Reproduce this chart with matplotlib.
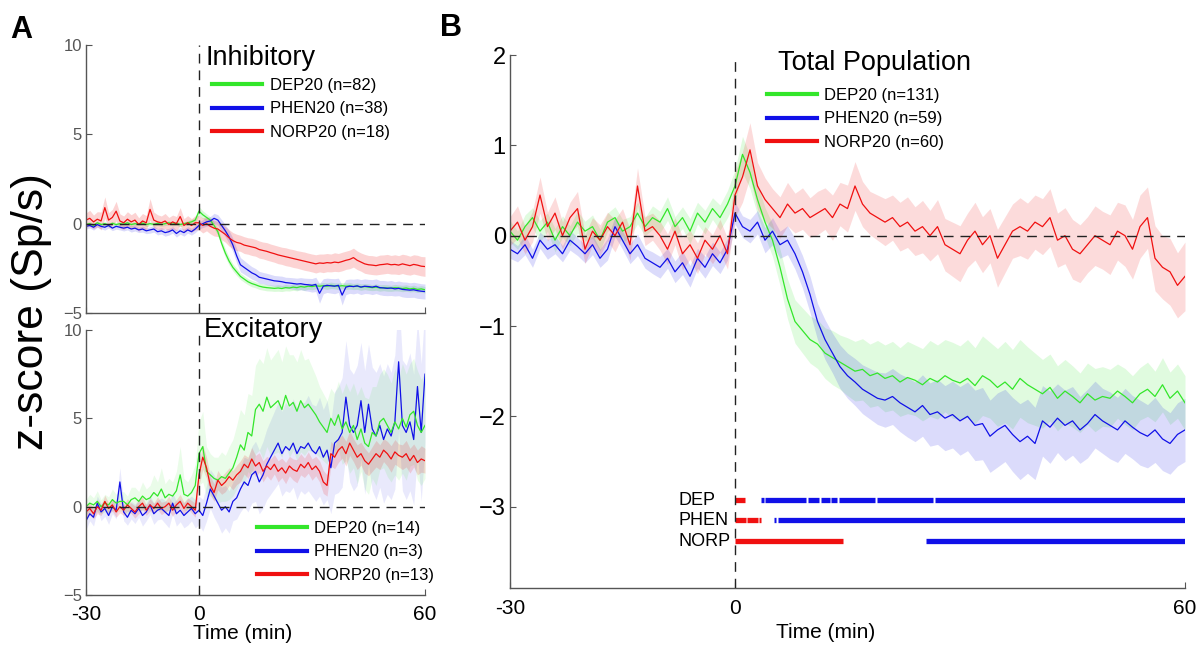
import numpy as np
import matplotlib
matplotlib.use("Agg")
import matplotlib.pyplot as plt
from matplotlib.lines import Line2D

plt.rcParams["font.family"] = ["Liberation Sans", "DejaVu Sans"]

# time axis (min), one sample per minute
time_min = np.arange(-30, 61)

# ---- panel B: total population (mean and sem) ----
dep_tot = [0.05, -0.05, 0.10, 0.20, 0.05, 0.15, -0.05, 0.10, 0.00, 0.15,
           0.05, 0.10, -0.05, 0.15, 0.20, 0.05, 0.10, 0.25, 0.10, 0.20,
           0.15, 0.30, 0.10, 0.20, 0.05, 0.25, 0.15, 0.30, 0.20, 0.35,
           0.55, 0.90, 0.70, 0.40, 0.15, -0.05, -0.35, -0.70, -0.95, -1.05,
           -1.15, -1.20, -1.30, -1.35, -1.40, -1.45, -1.50, -1.48, -1.55, -1.52,
           -1.58, -1.55, -1.62, -1.57, -1.60, -1.65, -1.58, -1.62, -1.55, -1.60,
           -1.63, -1.58, -1.66, -1.55, -1.60, -1.68, -1.62, -1.70, -1.58, -1.65,
           -1.70, -1.75, -1.68, -1.80, -1.72, -1.78, -1.85, -1.75, -1.82, -1.78,
           -1.80, -1.72, -1.78, -1.85, -1.75, -1.70, -1.78, -1.65, -1.80, -1.72,
           -1.85]
dep_tot_err = [0.12, 0.10, 0.13, 0.11, 0.12, 0.10, 0.13, 0.12, 0.11, 0.12,
               0.11, 0.13, 0.12, 0.10, 0.12, 0.13, 0.11, 0.12, 0.10, 0.13,
               0.12, 0.13, 0.11, 0.12, 0.14, 0.12, 0.13, 0.12, 0.14, 0.15,
               0.18, 0.20, 0.18, 0.17, 0.16, 0.18, 0.20, 0.22, 0.24, 0.25,
               0.26, 0.27, 0.28, 0.30, 0.30, 0.32, 0.33, 0.34, 0.35, 0.36,
               0.37, 0.38, 0.38, 0.40, 0.39, 0.40, 0.42, 0.41, 0.40, 0.42,
               0.41, 0.43, 0.42, 0.44, 0.42, 0.43, 0.45, 0.44, 0.43, 0.42,
               0.40, 0.38, 0.37, 0.36, 0.35, 0.34, 0.33, 0.34, 0.35, 0.33,
               0.32, 0.30, 0.31, 0.30, 0.29, 0.30, 0.28, 0.30, 0.29, 0.30,
               0.30]
phen_tot = [-0.15, -0.20, -0.10, -0.25, -0.05, -0.15, -0.10, -0.20, -0.05, -0.12,
            -0.20, -0.10, -0.25, -0.15, 0.10, -0.05, -0.20, -0.10, -0.25, -0.30,
            -0.35, -0.25, -0.40, -0.30, -0.45, -0.25, -0.35, -0.20, -0.30, -0.15,
            0.25, 0.10, 0.05, 0.15, -0.05, 0.05, -0.10, -0.05, -0.20, -0.40,
            -0.65, -0.95, -1.15, -1.30, -1.45, -1.55, -1.62, -1.70, -1.75, -1.80,
            -1.82, -1.78, -1.85, -1.90, -1.95, -1.88, -1.98, -1.95, -2.02, -1.98,
            -2.05, -2.00, -2.10, -2.08, -2.22, -2.15, -2.10, -2.20, -2.28, -2.22,
            -2.30, -2.05, -2.12, -2.02, -2.10, -2.05, -2.15, -2.08, -1.98, -2.05,
            -2.10, -2.15, -2.05, -2.12, -2.18, -2.22, -2.15, -2.25, -2.30, -2.20,
            -2.15]
phen_tot_err = [0.10, 0.09, 0.11, 0.10, 0.09, 0.11, 0.10, 0.09, 0.11, 0.10,
                0.10, 0.11, 0.10, 0.12, 0.11, 0.10, 0.11, 0.12, 0.11, 0.12,
                0.12, 0.11, 0.12, 0.13, 0.12, 0.11, 0.12, 0.13, 0.12, 0.12,
                0.12, 0.12, 0.13, 0.13, 0.14, 0.15, 0.15, 0.16, 0.17, 0.18,
                0.20, 0.20, 0.22, 0.22, 0.24, 0.25, 0.26, 0.27, 0.28, 0.29,
                0.30, 0.31, 0.32, 0.33, 0.33, 0.34, 0.35, 0.36, 0.36, 0.37,
                0.38, 0.38, 0.39, 0.40, 0.40, 0.41, 0.40, 0.41, 0.42, 0.41,
                0.40, 0.39, 0.40, 0.38, 0.39, 0.38, 0.37, 0.38, 0.37, 0.36,
                0.37, 0.36, 0.36, 0.35, 0.36, 0.35, 0.36, 0.35, 0.34, 0.35,
                0.35]
norp_tot = [0.05, 0.15, -0.05, 0.10, 0.45, 0.10, 0.25, 0.00, 0.20, 0.30,
            -0.15, 0.05, -0.05, 0.10, 0.00, 0.15, -0.10, 0.55, 0.05, 0.10,
            0.00, -0.15, 0.05, -0.20, -0.10, -0.25, -0.05, -0.15, 0.00, -0.20,
            0.45, 0.65, 0.95, 0.55, 0.40, 0.30, 0.20, 0.35, 0.25, 0.30,
            0.20, 0.25, 0.30, 0.20, 0.35, 0.30, 0.55, 0.35, 0.25, 0.20,
            0.15, 0.20, 0.10, 0.15, 0.05, 0.10, 0.00, 0.10, -0.10, -0.15,
            -0.20, -0.05, 0.05, -0.10, 0.00, -0.25, -0.10, 0.05, 0.10, 0.05,
            0.15, 0.10, 0.20, -0.05, 0.00, -0.15, -0.20, -0.10, 0.00, -0.05,
            -0.10, 0.05, 0.00, -0.15, 0.10, 0.20, -0.25, -0.35, -0.40, -0.55,
            -0.45]
norp_tot_err = [0.16, 0.18, 0.15, 0.17, 0.20, 0.16, 0.18, 0.15, 0.17, 0.19,
                0.16, 0.15, 0.17, 0.16, 0.18, 0.15, 0.17, 0.20, 0.16, 0.15,
                0.16, 0.17, 0.15, 0.18, 0.16, 0.17, 0.15, 0.16, 0.18, 0.17,
                0.25, 0.28, 0.30, 0.26, 0.24, 0.22, 0.23, 0.24, 0.22, 0.23,
                0.22, 0.24, 0.23, 0.25, 0.24, 0.26, 0.27, 0.25, 0.24, 0.25,
                0.26, 0.25, 0.27, 0.28, 0.27, 0.29, 0.28, 0.30, 0.29, 0.30,
                0.31, 0.30, 0.32, 0.31, 0.30, 0.32, 0.31, 0.30, 0.32, 0.31,
                0.30, 0.31, 0.32, 0.30, 0.31, 0.33, 0.32, 0.31, 0.33, 0.32,
                0.33, 0.32, 0.34, 0.33, 0.35, 0.34, 0.36, 0.35, 0.37, 0.36,
                0.38]

# ---- panel A top: inhibitory ----
dep_inh = [-0.05, 0.00, -0.10, 0.05, -0.05, 0.00, -0.08, 0.02, -0.05, 0.00,
           -0.03, 0.05, -0.05, 0.00, -0.02, 0.03, -0.05, 0.00, -0.04, 0.02,
           -0.05, 0.00, 0.05, -0.03, 0.02, -0.05, 0.00, 0.05, 0.10, 0.20,
           0.70, 0.50, 0.35, 0.20, -0.10, -0.45, -1.10, -1.65, -2.10, -2.45,
           -2.70, -2.95, -3.10, -3.25, -3.35, -3.42, -3.50, -3.55, -3.58, -3.60,
           -3.62, -3.60, -3.63, -3.58, -3.60, -3.55, -3.58, -3.52, -3.55, -3.50,
           -3.52, -3.48, -3.50, -3.47, -3.50, -3.45, -3.48, -3.50, -3.47, -3.50,
           -3.48, -3.52, -3.50, -3.55, -3.52, -3.55, -3.58, -3.55, -3.60, -3.58,
           -3.60, -3.62, -3.58, -3.60, -3.63, -3.60, -3.65, -3.62, -3.68, -3.65,
           -3.70]
dep_inh_err = [0.10, 0.12, 0.10, 0.11, 0.10, 0.12, 0.10, 0.11, 0.12, 0.10,
               0.11, 0.10, 0.12, 0.10, 0.11, 0.10, 0.12, 0.11, 0.10, 0.12,
               0.10, 0.11, 0.12, 0.10, 0.11, 0.12, 0.10, 0.12, 0.14, 0.16,
               0.25, 0.22, 0.20, 0.18, 0.18, 0.20, 0.22, 0.24, 0.22, 0.20,
               0.20, 0.18, 0.18, 0.17, 0.18, 0.17, 0.18, 0.17, 0.18, 0.17,
               0.17, 0.18, 0.17, 0.18, 0.17, 0.18, 0.18, 0.17, 0.18, 0.17,
               0.18, 0.17, 0.18, 0.17, 0.18, 0.18, 0.17, 0.18, 0.17, 0.18,
               0.18, 0.17, 0.18, 0.18, 0.17, 0.18, 0.17, 0.18, 0.18, 0.17,
               0.18, 0.17, 0.18, 0.17, 0.18, 0.18, 0.17, 0.18, 0.17, 0.18,
               0.18]
phen_inh = [-0.15, -0.10, -0.20, -0.05, -0.15, -0.20, -0.10, -0.25, -0.15, -0.20,
            -0.25, -0.20, -0.30, -0.25, -0.35, -0.30, -0.40, -0.35, -0.30, -0.45,
            -0.40, -0.50, -0.45, -0.35, -0.55, -0.40, -0.50, -0.35, -0.45, -0.30,
            -0.10, 0.00, 0.10, 0.15, 0.30, 0.20, -0.10, -0.40, -0.75, -1.20,
            -1.80, -2.30, -2.45, -2.60, -2.75, -2.85, -3.00, -3.05, -3.10, -3.15,
            -3.20, -3.22, -3.25, -3.30, -3.32, -3.35, -3.38, -3.36, -3.40, -3.42,
            -3.45, -3.40, -3.90, -3.50, -3.45, -3.48, -3.50, -3.45, -4.00, -3.55,
            -3.50, -3.52, -3.48, -3.55, -3.50, -3.52, -3.55, -3.50, -3.58, -3.60,
            -3.62, -3.60, -3.65, -3.62, -3.68, -3.70, -3.72, -3.70, -3.75, -3.78,
            -3.80]
phen_inh_err = [0.15, 0.14, 0.16, 0.15, 0.14, 0.16, 0.15, 0.14, 0.16, 0.15,
                0.16, 0.15, 0.17, 0.16, 0.15, 0.17, 0.16, 0.18, 0.17, 0.18,
                0.18, 0.20, 0.19, 0.18, 0.20, 0.19, 0.20, 0.18, 0.19, 0.20,
                0.20, 0.22, 0.24, 0.25, 0.28, 0.30, 0.32, 0.34, 0.36, 0.38,
                0.40, 0.40, 0.38, 0.36, 0.35, 0.34, 0.33, 0.32, 0.32, 0.31,
                0.30, 0.30, 0.31, 0.30, 0.31, 0.32, 0.33, 0.34, 0.35, 0.36,
                0.38, 0.40, 0.55, 0.42, 0.40, 0.41, 0.42, 0.40, 0.55, 0.42,
                0.40, 0.41, 0.40, 0.42, 0.41, 0.40, 0.42, 0.41, 0.40, 0.42,
                0.41, 0.42, 0.40, 0.41, 0.42, 0.43, 0.41, 0.42, 0.43, 0.42,
                0.42]
norp_inh = [0.20, 0.30, 0.10, 0.25, 0.15, 0.90, 0.20, 0.35, 0.70, 0.15,
            0.05, 0.25, 0.10, 0.20, -0.05, 0.15, 0.05, 0.80, 0.20, 0.10,
            0.05, 0.15, -0.05, 0.10, 0.00, 0.40, -0.10, 0.05, -0.10, 0.05,
            0.05, -0.10, 0.00, -0.15, -0.25, -0.30, -0.45, -0.60, -0.80, -0.95,
            -1.05, -1.10, -1.20, -1.25, -1.30, -1.35, -1.45, -1.50, -1.55, -1.62,
            -1.68, -1.75, -1.80, -1.85, -1.90, -1.95, -2.00, -2.05, -2.10, -2.15,
            -2.20, -2.25, -2.20, -2.22, -2.18, -2.20, -2.15, -2.18, -2.12, -2.05,
            -2.00, -1.90, -2.05, -2.15, -2.25, -2.30, -2.32, -2.35, -2.30, -2.28,
            -2.25, -2.30, -2.28, -2.32, -2.25, -2.30, -2.35, -2.28, -2.32, -2.38,
            -2.40]
norp_inh_err = [0.40, 0.45, 0.38, 0.42, 0.50, 0.60, 0.42, 0.45, 0.55, 0.40,
                0.38, 0.42, 0.40, 0.44, 0.38, 0.42, 0.40, 0.60, 0.45, 0.40,
                0.38, 0.42, 0.40, 0.38, 0.40, 0.50, 0.38, 0.40, 0.38, 0.40,
                0.40, 0.42, 0.40, 0.42, 0.44, 0.42, 0.45, 0.44, 0.46, 0.45,
                0.46, 0.45, 0.47, 0.46, 0.48, 0.47, 0.48, 0.47, 0.49, 0.48,
                0.48, 0.49, 0.48, 0.50, 0.49, 0.50, 0.49, 0.50, 0.51, 0.50,
                0.50, 0.51, 0.50, 0.52, 0.51, 0.50, 0.52, 0.51, 0.52, 0.51,
                0.52, 0.53, 0.52, 0.51, 0.53, 0.52, 0.53, 0.52, 0.54, 0.53,
                0.53, 0.52, 0.54, 0.53, 0.54, 0.55, 0.53, 0.54, 0.55, 0.54,
                0.55]

# ---- panel A bottom: excitatory ----
dep_exc = [0.00, 0.20, 0.10, 0.30, 0.00, 0.20, 0.10, 0.40, 0.20, 0.30,
           0.30, 0.10, 0.40, 0.50, 0.30, 0.60, 0.40, 0.50, 0.80, 0.60,
           1.00, 0.50, 0.70, 0.60, 0.90, 1.80, 0.70, 0.60, 0.80, 1.20,
           3.00, 3.40, 2.00, 1.80, 1.60, 1.50, 1.70, 1.60, 1.90, 2.20,
           2.80, 3.50, 3.20, 4.20, 4.00, 5.50, 5.80, 5.40, 6.20, 5.60,
           5.80, 6.00, 5.50, 6.30, 5.70, 5.90, 5.40, 6.00, 5.60, 5.80,
           5.50, 5.20, 4.80, 4.50, 4.20, 5.00, 4.60, 5.20, 4.40, 4.80,
           4.20, 4.60, 3.80, 4.40, 3.60, 3.40, 4.20, 4.00, 4.80, 5.00,
           4.60, 4.20, 4.80, 4.40, 5.00, 4.50, 5.20, 5.40, 4.60, 4.20,
           4.60]
dep_exc_err = [0.40, 0.50, 0.40, 0.60, 0.40, 0.50, 0.45, 0.60, 0.50, 0.55,
               0.55, 0.50, 0.70, 0.60, 0.55, 0.80, 0.60, 0.70, 1.00, 0.80,
               1.20, 0.80, 0.90, 0.80, 1.10, 1.60, 0.90, 0.80, 1.00, 1.20,
               1.80, 2.00, 1.40, 1.20, 1.20, 1.30, 1.40, 1.30, 1.50, 1.60,
               1.80, 2.00, 2.00, 2.20, 2.30, 2.50, 2.60, 2.70, 2.80, 2.70,
               2.80, 2.90, 2.70, 2.80, 2.90, 2.70, 2.80, 2.90, 2.70, 2.60,
               2.40, 2.20, 2.00, 1.90, 1.80, 1.70, 1.80, 1.90, 2.00, 2.20,
               2.30, 2.40, 2.50, 2.40, 2.60, 2.70, 2.60, 2.80, 2.70, 2.80,
               2.90, 2.80, 3.00, 2.90, 3.10, 3.00, 2.90, 3.00, 3.10, 3.00,
               3.00]
phen_exc = [-0.80, -0.40, -0.60, 0.20, -0.30, -0.10, -0.50, 0.00, -0.20, 1.40,
            -0.30, -0.60, -0.20, -0.40, -0.10, -0.50, -0.30, 0.10, -0.40, -0.20,
            -0.10, -0.30, -0.50, 0.20, -0.40, -0.20, -0.50, -0.30, -0.10, -0.40,
            -0.20, -0.50, 0.20, 1.00, 0.60, 0.20, -0.20, 0.00, -0.30, 0.30,
            0.50, 1.00, 1.40, 1.20, 1.80, 2.00, 1.40, 1.80, 2.40, 2.80,
            3.20, 3.60, 3.00, 3.40, 3.20, 3.60, 3.00, 3.40, 3.30, 3.60,
            3.20, 3.00, 3.40, 2.80, 3.20, 2.20, 3.60, 3.80, 4.20, 6.20,
            4.60, 4.20, 4.60, 6.00, 4.20, 5.80, 4.40, 4.00, 4.60, 3.80,
            4.40, 4.00, 4.80, 8.20, 4.60, 4.20, 4.80, 3.80, 6.80, 4.20,
            7.50]
phen_exc_err = [0.50, 0.40, 0.50, 0.40, 0.50, 0.45, 0.50, 0.40, 0.50, 0.80,
                0.50, 0.45, 0.50, 0.55, 0.50, 0.60, 0.50, 0.55, 0.60, 0.55,
                0.60, 0.65, 0.70, 0.60, 0.70, 0.65, 0.70, 0.75, 0.70, 0.80,
                0.80, 0.90, 1.00, 1.10, 1.20, 1.20, 1.30, 1.20, 1.20, 1.10,
                1.20, 1.30, 1.40, 1.50, 1.60, 1.70, 1.80, 1.90, 2.00, 2.10,
                2.20, 2.30, 2.40, 2.50, 2.40, 2.50, 2.60, 2.50, 2.60, 2.70,
                2.60, 2.70, 2.80, 2.70, 2.80, 2.60, 2.90, 3.00, 3.10, 3.20,
                3.20, 3.30, 3.40, 3.30, 3.50, 3.40, 3.50, 3.60, 3.50, 3.60,
                3.70, 3.60, 3.80, 3.90, 3.70, 3.80, 3.90, 3.70, 3.80, 3.90,
                3.90]
norp_exc = [-0.30, -0.10, -0.40, 0.00, -0.20, 0.30, -0.10, 0.10, -0.30, 0.00,
            -0.20, 0.10, -0.10, -0.30, 0.00, 0.20, -0.20, 0.10, -0.10, 0.20,
            -0.10, 0.00, 0.20, -0.20, 0.10, 0.30, -0.10, 0.20, 0.00, -0.20,
            1.80, 2.80, 2.20, 1.20, 0.80, 1.50, 1.20, 1.40, 1.70, 1.50,
            1.80, 2.00, 2.40, 2.20, 2.70, 2.30, 2.50, 2.00, 2.30, 2.10,
            2.40, 2.00, 2.20, 1.90, 2.30, 2.10, 2.00, 2.40, 2.20, 2.50,
            2.10, 2.30, 2.00, 1.40, 1.20, 3.00, 2.80, 3.20, 3.40, 3.00,
            3.60, 3.20, 2.80, 3.00, 2.60, 2.40, 2.70, 3.00, 2.80, 3.20,
            3.00, 2.70, 3.10, 2.90, 2.80, 3.00, 2.60, 2.90, 2.50, 2.70,
            2.60]
norp_exc_err = [0.30, 0.35, 0.30, 0.40, 0.30, 0.35, 0.30, 0.35, 0.30, 0.35,
                0.30, 0.35, 0.30, 0.35, 0.40, 0.35, 0.30, 0.35, 0.30, 0.35,
                0.35, 0.30, 0.40, 0.35, 0.30, 0.40, 0.35, 0.30, 0.35, 0.40,
                0.60, 0.70, 0.60, 0.50, 0.50, 0.55, 0.50, 0.55, 0.50, 0.55,
                0.55, 0.60, 0.55, 0.60, 0.65, 0.60, 0.55, 0.60, 0.55, 0.60,
                0.55, 0.60, 0.55, 0.60, 0.55, 0.60, 0.65, 0.60, 0.55, 0.60,
                0.60, 0.55, 0.60, 0.65, 0.60, 0.70, 0.65, 0.70, 0.65, 0.70,
                0.70, 0.65, 0.70, 0.65, 0.70, 0.65, 0.70, 0.75, 0.70, 0.65,
                0.70, 0.75, 0.70, 0.65, 0.70, 0.75, 0.70, 0.65, 0.70, 0.75,
                0.70]

legend_inh = ["DEP20 (n=82)", "PHEN20 (n=38)", "NORP20 (n=18)"]
legend_exc = ["DEP20 (n=14)", "PHEN20 (n=3)", "NORP20 (n=13)"]
legend_tot = ["DEP20 (n=131)", "PHEN20 (n=59)", "NORP20 (n=60)"]

# significance bars under panel B: (start, end) in minutes
sig_labels = ["DEP", "PHEN", "NORP"]
sig_levels = [-2.93, -3.15, -3.38]
sig_red = [[(0.0, 1.3)],
           [(0.0, 1.4), (1.6, 3.0), (3.2, 3.5)],
           [(0.0, 14.4)]]
sig_blue = [[(3.5, 3.8), (4.0, 9.5), (9.7, 11.2), (11.4, 12.6), (12.8, 13.6),
             (13.8, 18.7), (18.9, 26.4), (26.6, 60.0)],
            [(5.2, 5.5), (5.7, 60.0)],
            [(25.4, 60.0)]]

GREEN = "#33e62a"
BLUE = "#1010e8"
RED = "#f01010"
SPINE = "#555555"
DASH = (0, (7, 5))

W, H = 1196, 647
fig = plt.figure(figsize=(W / 100, H / 100), dpi=100)


def px_axes(left, top, right, bottom):
    return fig.add_axes([left / W, 1 - bottom / H, (right - left) / W, (bottom - top) / H])


def shaded(ax, mean, err, color, alpha):
    m = np.asarray(mean)
    e = np.asarray(err)
    ax.fill_between(time_min, m - e, m + e, color=color, alpha=alpha, linewidth=0)
    ax.plot(time_min, m, color=color, lw=0.9)


def style(ax, ylim, yticks, yticklabels, ysize, ycolor, show_x, xpad):
    ax.set_xlim(-30, 60)
    ax.set_ylim(*ylim)
    for s in ["top", "right"]:
        ax.spines[s].set_visible(False)
    for s in ["left", "bottom"]:
        ax.spines[s].set_color(SPINE)
        ax.spines[s].set_linewidth(1.0)
    ax.set_yticks(yticks)
    ax.set_yticklabels(yticklabels, fontsize=ysize, color=ycolor)
    ax.set_xticks([-30, 0, 60])
    if show_x:
        ax.set_xticklabels(["-30", "0", "60"], fontsize=15)
    else:
        ax.set_xticklabels([])
    ax.tick_params(direction="in", length=4, color=SPINE)
    ax.tick_params(axis="y", pad=3)
    ax.tick_params(axis="x", pad=xpad)
    ax.axvline(0, color="#222222", lw=1.0, ls=DASH, zorder=5)
    ax.axhline(0, color="#222222", lw=1.0, ls=DASH, zorder=5)


def add_legend(ax, labels, x, y):
    handles = [Line2D([], [], color=c, lw=3) for c in (GREEN, BLUE, RED)]
    ax.legend(handles, labels, loc="upper left", bbox_to_anchor=(x / W, 1 - y / H),
              bbox_transform=fig.transFigure, frameon=False, borderpad=0,
              borderaxespad=0, handlelength=3.0, handletextpad=0.45,
              labelspacing=0.5, prop={"size": 12})


yt_a = [-5, 0, 5, 10]
ytl_a = ["\u22125", "0", "5", "10"]

# panel A top
ax1 = px_axes(86, 45, 425, 313)
shaded(ax1, dep_inh, dep_inh_err, GREEN, 0.18)
shaded(ax1, phen_inh, phen_inh_err, BLUE, 0.15)
shaded(ax1, norp_inh, norp_inh_err, RED, 0.18)
style(ax1, (-5, 10), yt_a, ytl_a, 12, "#555555", False, 6)
add_legend(ax1, legend_inh, 212, 78)
fig.text(205 / W, 1 - 58 / H, "Inhibitory", fontsize=19.5, va="center", ha="left")

# panel A bottom
ax2 = px_axes(86, 330, 425, 595)
shaded(ax2, phen_exc, phen_exc_err, BLUE, 0.09)
shaded(ax2, dep_exc, dep_exc_err, GREEN, 0.10)
shaded(ax2, norp_exc, norp_exc_err, RED, 0.15)
style(ax2, (-5, 10), yt_a, ytl_a, 12, "#555555", True, 7)
ax2.set_xlabel("Time (min)", fontsize=15, labelpad=1)
ax2.xaxis.set_label_coords(0.463, -0.108)
add_legend(ax2, legend_exc, 257, 521)
fig.text(204 / W, 1 - 330 / H, "Excitatory", fontsize=19.5, va="center", ha="left")

# panel B
ax3 = px_axes(510, 55, 1185, 588)
shaded(ax3, dep_tot, dep_tot_err, GREEN, 0.15)
shaded(ax3, phen_tot, phen_tot_err, BLUE, 0.15)
shaded(ax3, norp_tot, norp_tot_err, RED, 0.15)
style(ax3, (-3.9, 2), [-3, -2, -1, 0, 1, 2],
      ["\u22123", "\u22122", "\u22121", "0", "1", "2"], 17, "black", True, 8)
ax3.set_xlabel("Time (min)", fontsize=15)
ax3.xaxis.set_label_coords(0.468, -0.066)
add_legend(ax3, legend_tot, 767, 88)
fig.text(778 / W, 1 - 63 / H, "Total Population", fontsize=19.5, va="center", ha="left")

for lab, lvl, reds, blues in zip(sig_labels, sig_levels, sig_red, sig_blue):
    for a, b in reds:
        ax3.plot([a, b], [lvl, lvl], color=RED, lw=3.8, solid_capstyle="butt")
    for a, b in blues:
        ax3.plot([a, b], [lvl, lvl], color=BLUE, lw=3.8, solid_capstyle="butt")
    ax3.text(-7.6, lvl, lab, fontsize=13, va="center", ha="left")

fig.text(32 / W, 1 - 312 / H, "z-score (Sp/s)", fontsize=32, rotation=90,
         va="center", ha="center")
fig.text(10 / W, 1 - 30 / H, "A", fontsize=22, fontweight="bold", va="center")
fig.text(440 / W, 1 - 28 / H, "B", fontsize=22, fontweight="bold", va="center")

fig.savefig("out.png", dpi=100)
